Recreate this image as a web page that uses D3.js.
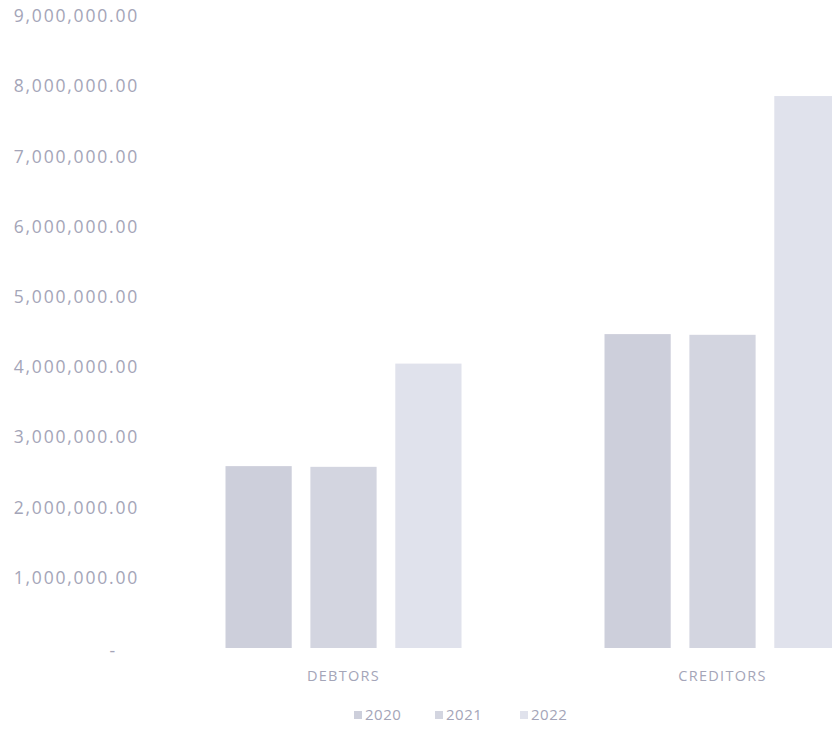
<!DOCTYPE html>
<html>
<head>
<meta charset="utf-8">
<script src="https://cdn.jsdelivr.net/npm/d3@7"></script>
<style>
  body { margin: 0; background: #fff; }
  text { font-family: "Open Sans", "Liberation Sans", sans-serif; }
</style>
</head>
<body>
<div id="chart"></div>
<script>
// DATA
const categories = ["DEBTORS", "CREDITORS"];
const years = ["2020", "2021", "2022"];
const values2020 = [2590000, 4470000];
const values2021 = [2580000, 4460000];
const values2022 = [4050000, 7860000];
const yTicks = [0, 1000000, 2000000, 3000000, 4000000, 5000000, 6000000, 7000000, 8000000, 9000000];

const seriesValues = [values2020, values2021, values2022];
const barClr = ["#cdcfdb", "#d3d5e0", "#e0e2ec"];
const textClr = "#a4a5b8";

const w = 832;
const h = 744;

// SCALES
const yScale = d3.scaleLinear()
  .domain([0, 9000000])
  .range([648, 16]);

const xScale = d3.scaleBand()
  .domain(categories)
  .range([154, 912])
  .paddingInner(0)
  .paddingOuter(0);

const xInner = d3.scaleBand()
  .domain(years)
  .range([-118, 118])
  .paddingInner(0.22)
  .paddingOuter(0);

// SVG
const svg = d3.select("#chart")
  .append("svg")
  .attr("width", w)
  .attr("height", h);

// Y AXIS
const fmt = d3.format(",.2f");
const yAxis = d3.axisLeft(yScale)
  .tickValues(yTicks)
  .tickSize(0)
  .tickPadding(0)
  .tickFormat((d) => d === 0 ? "-" : fmt(d));

const yG = svg.append("g")
  .attr("transform", "translate(139,0)")
  .call(yAxis);
yG.select(".domain").remove();
yG.selectAll("text")
  .attr("fill", textClr)
  .style("font-size", "17.5px")
  .style("letter-spacing", "1.8px")
  .attr("dx", (d) => d === 0 ? -22 : 0)
  .attr("dy", (d) => d === 0 ? "0.5em" : "0.32em");

// BARS
const groups = svg.selectAll(".grp")
  .data(categories)
  .enter()
  .append("g")
  .attr("class", "grp")
  .attr("transform", (d) => "translate(" + (xScale(d) + xScale.bandwidth() / 2) + ",0)");

groups.selectAll("rect")
  .data((d, i) => years.map((y, j) => ({ year: y, idx: j, value: seriesValues[j][i] })))
  .enter()
  .append("rect")
  .attr("x", (d) => xInner(d.year))
  .attr("width", xInner.bandwidth())
  .attr("y", (d) => yScale(d.value))
  .attr("height", (d) => yScale(0) - yScale(d.value))
  .attr("fill", (d) => barClr[d.idx]);

// X AXIS LABELS
const xAxis = d3.axisBottom(xScale).tickSize(0).tickPadding(0);
const xG = svg.append("g")
  .attr("transform", "translate(0,671)")
  .call(xAxis);
xG.select(".domain").remove();
xG.selectAll("text")
  .attr("fill", textClr)
  .style("font-size", "14.5px")
  .style("letter-spacing", "1.3px");

// LEGEND
const legendX = [354, 435, 520];
const legend = svg.append("g")
  .attr("transform", "translate(0,715)");
years.forEach((y, i) => {
  legend.append("rect")
    .attr("x", legendX[i])
    .attr("y", -4)
    .attr("width", 8)
    .attr("height", 8)
    .attr("fill", barClr[i]);
  legend.append("text")
    .attr("x", legendX[i] + 11)
    .attr("y", 0)
    .attr("dy", "0.35em")
    .attr("fill", textClr)
    .style("font-size", "15px")
    .style("letter-spacing", "0.5px")
    .text(y);
});
</script>
</body>
</html>
